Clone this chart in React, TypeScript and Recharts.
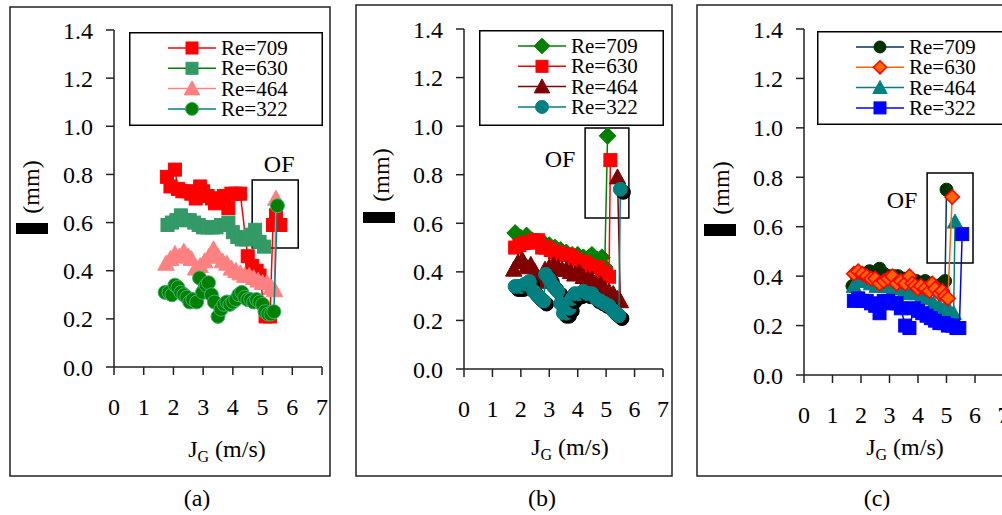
import React from 'react';
import { ScatterChart, Scatter, XAxis, YAxis, ReferenceArea, Legend } from 'recharts';

const FONT = '"Liberation Serif", "Times New Roman", serif';

// ---------- data ----------
const xTicks = [0, 1, 2, 3, 4, 5, 6, 7];
const yTicks = [0, 0.2, 0.4, 0.6, 0.8, 1.0, 1.2, 1.4];
const seriesNames = ['Re=709', 'Re=630', 'Re=464', 'Re=322'];
const panelLabels = ['(a)', '(b)', '(c)'];

// panel (a)
const a709 = [[1.78,0.79],[1.9,0.75],[2.05,0.82],[2.15,0.74],[2.3,0.73],[2.45,0.73],[2.6,0.72],[2.75,0.70],[2.9,0.75],[3.0,0.73],[3.15,0.71],[3.3,0.70],[3.4,0.68],[3.55,0.70],[3.7,0.71],[3.85,0.66],[3.95,0.72],[4.1,0.72],[4.25,0.72],[4.5,0.46],[4.65,0.42],[4.8,0.40],[4.9,0.38],[5.1,0.21],[5.25,0.21],[5.35,0.59],[5.45,0.63],[5.6,0.59]];
const a630 = [[1.8,0.59],[1.95,0.60],[2.1,0.61],[2.25,0.63],[2.4,0.61],[2.55,0.61],[2.7,0.60],[2.85,0.59],[3.0,0.58],[3.15,0.58],[3.3,0.58],[3.45,0.58],[3.6,0.59],[3.75,0.59],[3.85,0.60],[4.0,0.56],[4.15,0.54],[4.3,0.53],[4.45,0.53],[4.6,0.55],[4.75,0.57],[4.9,0.52],[5.05,0.50]];
const a464 = [[1.75,0.43],[1.9,0.45],[2.05,0.47],[2.2,0.46],[2.35,0.48],[2.5,0.46],[2.6,0.45],[2.75,0.41],[2.9,0.42],[3.05,0.44],[3.2,0.46],[3.35,0.49],[3.5,0.46],[3.65,0.44],[3.8,0.43],[3.95,0.41],[4.1,0.40],[4.25,0.39],[4.4,0.38],[4.55,0.38],[4.7,0.37],[4.85,0.36],[5.0,0.35],[5.15,0.35],[5.3,0.33],[5.4,0.32],[5.45,0.70]];
const a322 = [[1.72,0.31],[1.85,0.31],[1.95,0.30],[2.05,0.34],[2.15,0.33],[2.25,0.31],[2.35,0.30],[2.45,0.29],[2.55,0.27],[2.65,0.28],[2.78,0.27],[2.88,0.37],[2.98,0.31],[3.1,0.34],[3.18,0.35],[3.28,0.30],[3.38,0.27],[3.5,0.21],[3.6,0.24],[3.7,0.26],[3.8,0.27],[3.9,0.26],[4.0,0.27],[4.1,0.28],[4.2,0.30],[4.3,0.31],[4.4,0.29],[4.5,0.28],[4.6,0.28],[4.7,0.27],[4.8,0.28],[4.9,0.27],[5.0,0.26],[5.08,0.23],[5.18,0.22],[5.28,0.22],[5.38,0.23],[5.5,0.67]];

// panel (b)
const b709 = [[1.8,0.56],[2.0,0.54],[2.2,0.55],[2.4,0.53],[2.6,0.52],[2.8,0.52],[3.0,0.51],[3.2,0.50],[3.4,0.49],[3.6,0.48],[3.8,0.47],[4.0,0.47],[4.2,0.46],[4.4,0.46],[4.5,0.47],[4.7,0.45],[4.85,0.46],[4.95,0.42],[5.05,0.96]];
const b630 = [[1.8,0.50],[1.95,0.51],[2.1,0.52],[2.25,0.52],[2.45,0.53],[2.6,0.53],[2.75,0.50],[2.9,0.50],[3.05,0.49],[3.2,0.48],[3.35,0.48],[3.5,0.47],[3.65,0.47],[3.8,0.46],[3.95,0.45],[4.1,0.44],[4.25,0.44],[4.4,0.43],[4.55,0.42],[4.7,0.42],[4.85,0.40],[5.0,0.39],[5.1,0.38],[5.15,0.86]];
const b464 = [[1.75,0.41],[1.9,0.44],[2.05,0.45],[2.2,0.42],[2.35,0.43],[2.5,0.40],[2.7,0.36],[2.85,0.41],[3.0,0.42],[3.15,0.43],[3.3,0.42],[3.45,0.41],[3.6,0.41],[3.75,0.40],[3.9,0.39],[4.05,0.40],[4.2,0.38],[4.35,0.37],[4.5,0.37],[4.65,0.35],[4.8,0.35],[4.95,0.33],[5.1,0.32],[5.25,0.31],[5.4,0.29],[5.5,0.28],[5.4,0.79]];
const b322 = [[1.8,0.34],[1.9,0.34],[2.0,0.34],[2.15,0.35],[2.3,0.36],[2.45,0.32],[2.6,0.30],[2.7,0.29],[2.8,0.28],[2.87,0.39],[3.0,0.37],[3.15,0.34],[3.3,0.32],[3.4,0.27],[3.5,0.23],[3.6,0.23],[3.7,0.25],[3.8,0.29],[3.9,0.31],[4.05,0.31],[4.2,0.32],[4.35,0.31],[4.5,0.31],[4.65,0.29],[4.8,0.28],[4.95,0.27],[5.1,0.26],[5.25,0.24],[5.35,0.23],[5.45,0.22],[5.5,0.74]];

// panel (c)
const c709 = [[1.7,0.36],[1.85,0.40],[2.0,0.41],[2.15,0.41],[2.3,0.42],[2.5,0.41],[2.65,0.43],[2.8,0.41],[3.0,0.40],[3.15,0.40],[3.3,0.40],[3.5,0.39],[3.65,0.39],[3.8,0.38],[3.95,0.38],[4.1,0.37],[4.25,0.38],[4.4,0.37],[4.55,0.36],[4.7,0.36],[4.85,0.37],[4.95,0.38],[5.0,0.75]];
const c630 = [[1.75,0.41],[1.9,0.42],[2.05,0.41],[2.2,0.40],[2.35,0.39],[2.5,0.39],[2.65,0.37],[2.8,0.38],[2.95,0.39],[3.1,0.40],[3.25,0.37],[3.4,0.38],[3.55,0.37],[3.7,0.40],[3.8,0.37],[3.9,0.36],[4.0,0.35],[4.1,0.36],[4.25,0.35],[4.4,0.34],[4.5,0.37],[4.6,0.35],[4.75,0.33],[4.85,0.34],[4.95,0.32],[5.05,0.31],[5.2,0.72]];
const c464 = [[1.75,0.36],[1.95,0.38],[2.15,0.38],[2.35,0.37],[2.55,0.36],[2.75,0.36],[2.95,0.36],[3.15,0.35],[3.35,0.35],[3.55,0.34],[3.75,0.33],[3.95,0.33],[4.15,0.32],[4.35,0.31],[4.55,0.29],[4.75,0.28],[4.95,0.27],[5.1,0.26],[5.25,0.25],[5.3,0.62]];
const c322 = [[1.75,0.30],[1.9,0.31],[2.05,0.30],[2.2,0.30],[2.35,0.29],[2.5,0.28],[2.65,0.25],[2.8,0.30],[2.95,0.30],[3.1,0.29],[3.25,0.29],[3.4,0.27],[3.55,0.20],[3.7,0.19],[3.85,0.27],[4.0,0.26],[4.15,0.25],[4.3,0.24],[4.45,0.23],[4.6,0.22],[4.75,0.21],[4.9,0.21],[5.05,0.20],[5.2,0.20],[5.35,0.19],[5.45,0.19],[5.55,0.57]];

// OF boxes [x1, x2, y1, y2]
const ofA = [4.65, 6.2, 0.494, 0.777];
const ofB = [4.26, 5.8, 0.622, 0.992];
const ofC = [4.32, 5.93, 0.453, 0.817];

const toPts = (arr: number[][]) => arr.map(([x, y]) => ({ x, y }));

// ---------- markers ----------
type Style = {
  kind: 'square' | 'circle' | 'triangle' | 'diamond';
  fill: string; stroke: string; line: string; size: number; sw?: number; shadow?: boolean;
};

function marker(st: Style, cx: number, cy: number, key?: string) {
  const s = st.size;
  const sw = st.sw ?? 1;
  const body = (dx: number, dy: number, fill: string, stroke: string) => {
    const x = cx + dx, y = cy + dy;
    if (st.kind === 'square') return <rect x={x - s / 2} y={y - s / 2} width={s} height={s} fill={fill} stroke={stroke} strokeWidth={sw} />;
    if (st.kind === 'circle') return <circle cx={x} cy={y} r={s / 2} fill={fill} stroke={stroke} strokeWidth={sw} />;
    if (st.kind === 'triangle') return <polygon points={`${x},${y - s * 0.55} ${x - s * 0.55},${y + s * 0.45} ${x + s * 0.55},${y + s * 0.45}`} fill={fill} stroke={stroke} strokeWidth={sw} />;
    const r = s * 0.6;
    return <polygon points={`${x},${y - r} ${x + r},${y} ${x},${y + r} ${x - r},${y}`} fill={fill} stroke={stroke} strokeWidth={sw} />;
  };
  return (
    <g key={key}>
      {st.shadow ? body(3, 3, '#000', '#000') : null}
      {body(0, 0, st.fill, st.stroke)}
    </g>
  );
}

const shapeFor = (st: Style) => (p: any) => {
  if (p == null || p.cx == null || p.cy == null) return <g />;
  return marker(st, p.cx, p.cy);
};

// ---------- styles ----------
const stylesA: Style[] = [
  { kind: 'square', fill: '#FF0000', stroke: '#FF0000', line: '#FF0000', size: 13 },
  { kind: 'square', fill: '#339966', stroke: '#339966', line: '#008000', size: 13 },
  { kind: 'triangle', fill: '#FF8080', stroke: '#FF8080', line: '#FF8080', size: 15 },
  { kind: 'circle', fill: '#008000', stroke: '#3CB371', line: '#008080', size: 14 },
];
const stylesB: Style[] = [
  { kind: 'diamond', fill: '#008000', stroke: '#008000', line: '#008000', size: 14 },
  { kind: 'square', fill: '#FF0000', stroke: '#FF0000', line: '#FF0000', size: 13 },
  { kind: 'triangle', fill: '#800000', stroke: '#800000', line: '#800000', size: 15 },
  { kind: 'circle', fill: '#008080', stroke: '#008080', line: '#008080', size: 14, shadow: true },
];
const stylesC: Style[] = [
  { kind: 'circle', fill: '#003300', stroke: '#003300', line: '#003366', size: 13 },
  { kind: 'diamond', fill: '#FF6600', stroke: '#FF0000', line: '#FF6600', size: 12, sw: 1.5 },
  { kind: 'triangle', fill: '#008080', stroke: '#008080', line: '#008080', size: 14 },
  { kind: 'square', fill: '#0000FF', stroke: '#0000FF', line: '#0000FF', size: 13 },
];

// ---------- legend ----------
function LegendBox({ styles, w, h }: { styles: Style[]; w: number; h: number }) {
  return (
    <svg width={w} height={h} style={{ display: 'block', overflow: 'visible' }}>
      <rect x={0.75} y={0.75} width={w - 1.5} height={h - 1.5} fill="#fff" stroke="#000" strokeWidth={1.5} />
      {styles.map((st, i) => {
        const y = 16 + i * 20.3;
        return (
          <g key={i}>
            <line x1={39} x2={87} y1={y} y2={y} stroke={st.line} strokeWidth={1.5} />
            {marker({ ...st, shadow: false, size: st.size - 1 }, 63, y)}
            <text x={92} y={y} dominantBaseline="central" fontFamily={FONT} fontSize={21} fill="#000">{seriesNames[i]}</text>
          </g>
        );
      })}
    </svg>
  );
}

// ---------- panel ----------
type PanelCfg = {
  left: number; clipW: number;
  margin: { top: number; right: number; bottom: number; left: number };
  series: number[][][]; styles: Style[]; order: number[];
  of: number[]; ofDx: number; ofDy: number;
  legend: { left: number; top: number; w: number; h: number };
};

function Panel({ cfg }: { cfg: PanelCfg }) {
  const ofLabel = (p: any) => {
    const vb = p && p.viewBox ? p.viewBox : p;
    if (!vb || vb.x == null) return null;
    return (
      <text x={vb.x + cfg.ofDx} y={vb.y + cfg.ofDy} textAnchor="middle" fontFamily={FONT} fontSize={24} fill="#000">OF</text>
    );
  };
  const axisStyle = { stroke: '#222', strokeWidth: 1.5 };
  return (
    <div style={{ position: 'absolute', left: cfg.left, top: 0, width: cfg.clipW, height: 515, overflow: 'hidden' }}>
      <ScatterChart width={340} height={515} margin={cfg.margin}>
        <XAxis
          type="number" dataKey="x" domain={[0, 7]} ticks={xTicks} interval={0} allowDataOverflow
          height={40} tickSize={8} tickMargin={23} axisLine={axisStyle} tickLine={axisStyle}
          tick={{ fill: '#000', fontSize: 24, fontFamily: FONT }}
        />
        <YAxis
          type="number" dataKey="y" domain={[0, 1.4]} ticks={yTicks} interval={0} allowDataOverflow
          width={60} tickSize={8} tickMargin={13} axisLine={axisStyle} tickLine={axisStyle}
          tickFormatter={(v: number) => v.toFixed(1)}
          tick={{ fill: '#000', fontSize: 24, fontFamily: FONT }}
        />
        <ReferenceArea
          x1={cfg.of[0]} x2={cfg.of[1]} y1={cfg.of[2]} y2={cfg.of[3]} ifOverflow="visible"
          fill="none" fillOpacity={0} stroke="#000" strokeWidth={1.5} label={ofLabel}
        />
        {cfg.order.map((i) => (
          <Scatter
            key={i}
            name={seriesNames[i]}
            data={toPts(cfg.series[i])}
            fill={cfg.styles[i].fill}
            line={{ stroke: cfg.styles[i].line, strokeWidth: 1.5 }}
            lineType="joint"
            shape={shapeFor(cfg.styles[i])}
            isAnimationActive={false}
          />
        ))}
        <Legend
          layout="horizontal" verticalAlign="middle" align="center"
          wrapperStyle={{ position: 'absolute', left: cfg.legend.left, top: cfg.legend.top, width: cfg.legend.w, height: cfg.legend.h }}
          content={() => <LegendBox styles={cfg.styles} w={cfg.legend.w} h={cfg.legend.h} />}
        />
      </ScatterChart>
    </div>
  );
}

const panels: PanelCfg[] = [
  {
    left: 0, clipW: 340, margin: { top: 30, right: 18, bottom: 108, left: 54 },
    series: [a709, a630, a464, a322], styles: stylesA, order: [0, 1, 2, 3],
    of: ofA, ofDx: 27, ofDy: -8,
    legend: { left: 129, top: 32, w: 194, h: 94 },
  },
  {
    left: 340, clipW: 340, margin: { top: 29, right: 17, bottom: 106, left: 64 },
    series: [b709, b630, b464, b322], styles: stylesB, order: [0, 1, 2, 3],
    of: ofB, ofDx: -25, ofDy: 39,
    legend: { left: 139, top: 30, w: 185, h: 96 },
  },
  {
    left: 680, clipW: 322, margin: { top: 29, right: 16.5, bottom: 100, left: 64 },
    series: [c709, c630, c464, c322], styles: stylesC, order: [0, 2, 3, 1],
    of: ofC, ofDx: -25, ofDy: 35,
    legend: { left: 137, top: 31, w: 200, h: 94 },
  },
];

// decoration positions (page coords)
const frames = [
  { x: 10, y: 7, w: 320, h: 469 },
  { x: 356, y: 5, w: 316, h: 471 },
  { x: 697, y: 5, w: 320, h: 471 },
];
const mmLabels = [{ x: 31, y: 187 }, { x: 381, y: 175 }, { x: 721, y: 188 }];
const deltaBoxes = [{ x: 16, y: 223, w: 32, h: 11 }, { x: 363, y: 212, w: 32, h: 11 }, { x: 704, y: 224, w: 32, h: 12 }];
const jgTitles = [{ x: 227, y: 457 }, { x: 570, y: 455 }, { x: 905, y: 455 }];
const panelLabelPos = [{ x: 197, y: 506 }, { x: 542, y: 506 }, { x: 877, y: 506 }];

export default function App() {
  return (
    <div style={{ position: 'absolute', left: 0, top: 0, width: 1002, height: 515, background: '#fff', overflow: 'hidden', fontFamily: FONT }}>
      <svg width={1002} height={515} style={{ position: 'absolute', left: 0, top: 0 }}>
        {frames.map((f, i) => (
          <rect key={i} x={f.x} y={f.y} width={f.w} height={f.h} fill="none" stroke="#222" strokeWidth={1.5} />
        ))}
        {mmLabels.map((m, i) => (
          <text key={i} x={m.x} y={m.y} transform={`rotate(-90 ${m.x} ${m.y})`} textAnchor="middle" dominantBaseline="central" fontFamily={FONT} fontSize={24} fill="#000">(mm)</text>
        ))}
        {deltaBoxes.map((d, i) => (
          <rect key={i} x={d.x} y={d.y} width={d.w} height={d.h} fill="#000" />
        ))}
        {jgTitles.map((t, i) => (
          <text key={i} x={t.x} y={t.y} textAnchor="middle" fontFamily={FONT} fontSize={24} fill="#000">
            J<tspan fontSize={16} dy={5}>G</tspan><tspan dy={-5}> (m/s)</tspan>
          </text>
        ))}
        {panelLabelPos.map((p, i) => (
          <text key={i} x={p.x} y={p.y} textAnchor="middle" fontFamily={FONT} fontSize={24} fill="#000">{panelLabels[i]}</text>
        ))}
      </svg>
      {panels.map((p, i) => <Panel key={i} cfg={p} />)}
    </div>
  );
}
